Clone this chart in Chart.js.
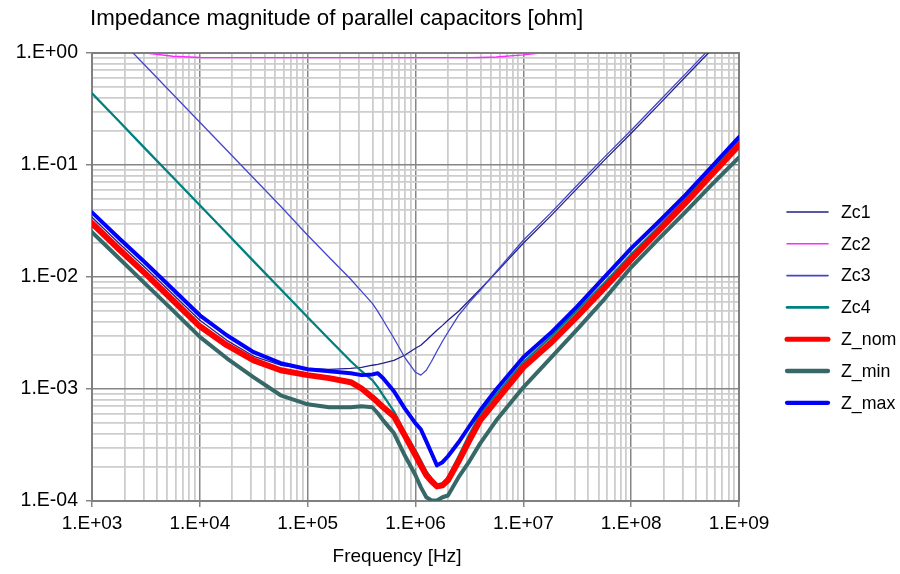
<!DOCTYPE html>
<html>
<head>
<meta charset="utf-8">
<title>Impedance magnitude of parallel capacitors</title>
<script src="https://cdn.jsdelivr.net/npm/chart.js@4.4.1/dist/chart.umd.min.js"></script>
<style>
  html, body { margin: 0; padding: 0; background: #ffffff; }
  #plot { display: block; }
</style>
</head>
<body>
<canvas id="plot" width="900" height="574"></canvas>
<script>
// ---- text ----
const chartTitle = 'Impedance magnitude of parallel capacitors [ohm]';
const xAxisTitle = 'Frequency [Hz]';

// ---- tick labels (decades) ----
const xTickValues = [1e3, 1e4, 1e5, 1e6, 1e7, 1e8, 1e9];
const xTickLabels = ['1.E+03', '1.E+04', '1.E+05', '1.E+06', '1.E+07', '1.E+08', '1.E+09'];
const yTickValues = [1e-4, 1e-3, 1e-2, 1e-1, 1];
const yTickLabels = ['1.E-04', '1.E-03', '1.E-02', '1.E-01', '1.E+00'];

// ---- frequency points [Hz] ----
const freqHz = [1e3, 1.78e3, 3.16e3, 5.62e3, 1e4, 1.78e4, 3.16e4, 5.62e4, 1e5, 1.58e5,
  2.51e5, 3.16e5, 3.98e5, 4.47e5, 5.01e5, 6.31e5, 7.94e5, 1e6, 1.12e6, 1.26e6,
  1.41e6, 1.58e6, 1.78e6, 2.0e6, 2.51e6, 3.16e6, 3.98e6, 5.62e6, 1e7, 1.78e7,
  3.16e7, 5.62e7, 1e8, 1.78e8, 3.16e8, 5.62e8, 1e9];

// ---- impedance magnitudes [ohm] ----
const zc1 = [0.0341, 0.0200, 0.01196, 0.00701, 0.00411, 0.00272, 0.00196, 0.00163, 0.00153, 0.0015,
  0.00153, 0.00156, 0.00163, 0.00166, 0.0017, 0.0018, 0.0020, 0.00231, 0.00246, 0.00272,
  0.00302, 0.00334, 0.0037, 0.00411, 0.00494, 0.0062, 0.00777, 0.0110, 0.0200, 0.0348,
  0.0619, 0.110, 0.192, 0.341, 0.607, 1.08, 1.92];

const zc2 = [1.30, 1.12, 1.0, 0.935, 0.912, 0.91, 0.91, 0.91, 0.91, 0.91,
  0.91, 0.91, 0.91, 0.91, 0.91, 0.91, 0.91, 0.91, 0.91, 0.91,
  0.91, 0.91, 0.91, 0.91, 0.91, 0.91, 0.912, 0.921, 0.962, 1.02,
  1.12, 1.5, 2.1, 3.2, 5.2, 8.8, 15];

const zc3 = [2.41, 1.353, 0.761, 0.428, 0.2406, 0.1353, 0.0761, 0.0428, 0.02357, 0.0150,
  0.00954, 0.00745, 0.00582, 0.00494, 0.00411, 0.00284, 0.00192, 0.00141, 0.00133, 0.00147,
  0.00177, 0.00217, 0.00267, 0.00321, 0.00455, 0.00594, 0.0076, 0.01124, 0.02127, 0.0370,
  0.0659, 0.117, 0.204, 0.363, 0.645, 1.148, 2.04];

const zc4 = [0.437, 0.2456, 0.138, 0.0777, 0.0437, 0.02456, 0.0138, 0.00777, 0.00437, 0.00278,
  0.00177, 0.00144, 0.0012, 0.00104, 8.79e-4, 6.32e-4, 4.11e-4, 2.84e-4, 2.31e-4, 1.84e-4,
  1.59e-4, 1.41e-4, 1.44e-4, 1.63e-4, 2.51e-4, 3.94e-4, 5.94e-4, 8.97e-4, 1.73e-3, 2.89e-3,
  5.04e-3, 8.79e-3, 0.01594, 0.0278, 0.0494, 0.0897, 0.1628];

const zNom = [0.0302, 0.0177, 0.0106, 0.0062, 0.00363, 0.00246, 0.0018, 0.00147, 0.00133, 0.00125,
  0.00115, 0.00101, 8.43e-4, 7.61e-4, 6.87e-4, 5.70e-4, 3.86e-4, 2.56e-4, 2.08e-4, 1.70e-4,
  1.50e-4, 1.35e-4, 1.38e-4, 1.53e-4, 2.26e-4, 3.48e-4, 5.25e-4, 7.93e-4, 1.56e-3, 2.56e-3,
  4.46e-3, 7.93e-3, 0.0144, 0.0256, 0.0455, 0.0826, 0.150];

const zMin = [0.0251, 0.0147, 0.0086, 0.00504, 0.00292, 0.00188, 0.00127, 8.79e-4, 7.30e-4, 6.87e-4,
  6.87e-4, 7.01e-4, 6.87e-4, 6.07e-4, 5.25e-4, 4.04e-4, 2.56e-4, 1.70e-4, 1.33e-4, 1.08e-4,
  1.01e-4, 1.01e-4, 1.08e-4, 1.12e-4, 1.63e-4, 2.26e-4, 3.27e-4, 5.25e-4, 1.036e-3, 1.88e-3,
  3.41e-3, 6.32e-3, 0.0122, 0.0217, 0.0378, 0.0673, 0.117];

const zMax = [0.0378, 0.0222, 0.01326, 0.00777, 0.00455, 0.00302, 0.00213, 0.0017, 0.0015, 0.00144,
  0.00138, 0.00133, 0.00135, 0.00138, 0.00125, 9.54e-4, 6.72e-4, 4.94e-4, 4.37e-4, 3.41e-4,
  2.67e-4, 2.08e-4, 2.22e-4, 2.51e-4, 3.34e-4, 4.65e-4, 6.45e-4, 9.94e-4, 1.92e-3, 3.14e-3,
  5.47e-3, 9.94e-3, 0.0180, 0.0308, 0.0536, 0.0974, 0.177];

// ---- series: name, values, line style ----
const series = [
  { name: 'Zc1',   values: zc1,  color: '#22228a', width: 1.3 },
  { name: 'Zc2',   values: zc2,  color: '#ff28ff', width: 1.3 },
  { name: 'Zc3',   values: zc3,  color: '#4444cc', width: 1.3 },
  { name: 'Zc4',   values: zc4,  color: '#008080', width: 2.3 },
  { name: 'Z_nom', values: zNom, color: '#ff0000', width: 6 },
  { name: 'Z_min', values: zMin, color: '#376868', width: 4 },
  { name: 'Z_max', values: zMax, color: '#0000ff', width: 4 }
];

// ---- grid values: 1..9 per decade ----
function decadeGrid(lo, hi) {
  const out = [];
  for (let e = lo; e < hi; e++) {
    for (let k = 1; k <= 9; k++) out.push(k * Math.pow(10, e));
  }
  out.push(Math.pow(10, hi));
  return out;
}
const xGrid = decadeGrid(3, 9);
const yGrid = decadeGrid(-4, 0);

function isDecade(v) {
  const l = Math.log10(v);
  return Math.abs(l - Math.round(l)) < 1e-6;
}
function labelFor(v, values, labels) {
  if (!isDecade(v)) return '';
  const e = Math.round(Math.log10(v));
  const i = values.findIndex(t => Math.round(Math.log10(t)) === e);
  return i >= 0 ? labels[i] : '';
}

const FONT = "'Liberation Sans', Arial, Helvetica, sans-serif";
Chart.defaults.font.family = FONT;
Chart.defaults.color = '#000000';

const MAJOR = '#868686';
const MINOR = '#cdcdcd';

function gridStyle() {
  return {
    color: c => (c.tick && isDecade(c.tick.value)) ? MAJOR : MINOR,
    lineWidth: c => (c.tick && isDecade(c.tick.value)) ? 1.5 : 1.8,
    drawTicks: true,
    tickLength: 6,
    tickColor: c => (c.tick && isDecade(c.tick.value)) ? MAJOR : 'rgba(0,0,0,0)',
    tickWidth: 1.5
  };
}

// frame, headline, axis caption and key
const decorations = {
  id: 'decorations',
  beforeDatasetsDraw(chart) {
    const { ctx, chartArea: a } = chart;
    ctx.save();
    ctx.strokeStyle = '#808080';
    ctx.lineWidth = 2;
    ctx.strokeRect(a.left, a.top, a.right - a.left, a.bottom - a.top);
    ctx.restore();
  },
  afterDraw(chart) {
    const { ctx, chartArea: a } = chart;
    ctx.save();
    ctx.fillStyle = '#000000';

    ctx.font = '22.3px ' + FONT;
    ctx.textAlign = 'left';
    ctx.textBaseline = 'alphabetic';
    ctx.fillText(chartTitle, a.left - 2, 25);

    ctx.font = '19px ' + FONT;
    ctx.textAlign = 'center';
    ctx.textBaseline = 'middle';
    ctx.fillText(xAxisTitle, 397, 557);

    const x0 = a.right + 48, x1 = a.right + 89, xt = a.right + 102;
    ctx.font = '17.8px ' + FONT;
    ctx.textAlign = 'left';
    series.forEach((s, i) => {
      const y = 212 + i * 31.8;
      ctx.beginPath();
      ctx.strokeStyle = s.color;
      ctx.lineWidth = Math.min(s.width + 0.3, 5);
      ctx.lineCap = 'round';
      ctx.moveTo(x0, y);
      ctx.lineTo(x1, y);
      ctx.stroke();
      ctx.fillStyle = '#000000';
      ctx.fillText(s.name, xt, y + 1);
    });
    ctx.restore();
  }
};

new Chart(document.getElementById('plot'), {
  type: 'line',
  data: {
    datasets: series.map((s, i) => ({
      label: s.name,
      data: freqHz.map((f, k) => ({ x: f, y: s.values[k] })),
      borderColor: s.color,
      backgroundColor: s.color,
      borderWidth: s.width,
      pointRadius: 0,
      pointHoverRadius: 0,
      tension: 0,
      fill: false,
      borderJoinStyle: 'round',
      borderCapStyle: 'round',
      order: series.length - i
    }))
  },
  options: {
    responsive: false,
    animation: false,
    events: [],
    layout: { padding: { top: 53, right: 161, bottom: 0, left: 0 } },
    plugins: {
      legend: { display: false },
      title: { display: false },
      tooltip: { enabled: false }
    },
    scales: {
      x: {
        type: 'logarithmic',
        min: 1e3,
        max: 1e9,
        afterBuildTicks: s => { s.ticks = xGrid.map(v => ({ value: v })); },
        afterFit: s => { s.height = 73; },
        ticks: {
          autoSkip: false,
          maxRotation: 0,
          minRotation: 0,
          padding: 5,
          color: '#000000',
          font: { size: 19 },
          callback: v => labelFor(v, xTickValues, xTickLabels)
        },
        grid: gridStyle(),
        border: { display: true, color: '#808080', width: 2 }
      },
      y: {
        type: 'logarithmic',
        min: 1e-4,
        max: 1,
        afterBuildTicks: s => { s.ticks = yGrid.map(v => ({ value: v })); },
        afterFit: s => { s.width = 92; },
        ticks: {
          autoSkip: false,
          padding: 8,
          color: '#000000',
          font: { size: 19.5 },
          callback: v => labelFor(v, yTickValues, yTickLabels)
        },
        grid: gridStyle(),
        border: { display: true, color: '#808080', width: 2 }
      }
    }
  },
  plugins: [decorations]
});
</script>
</body>
</html>
